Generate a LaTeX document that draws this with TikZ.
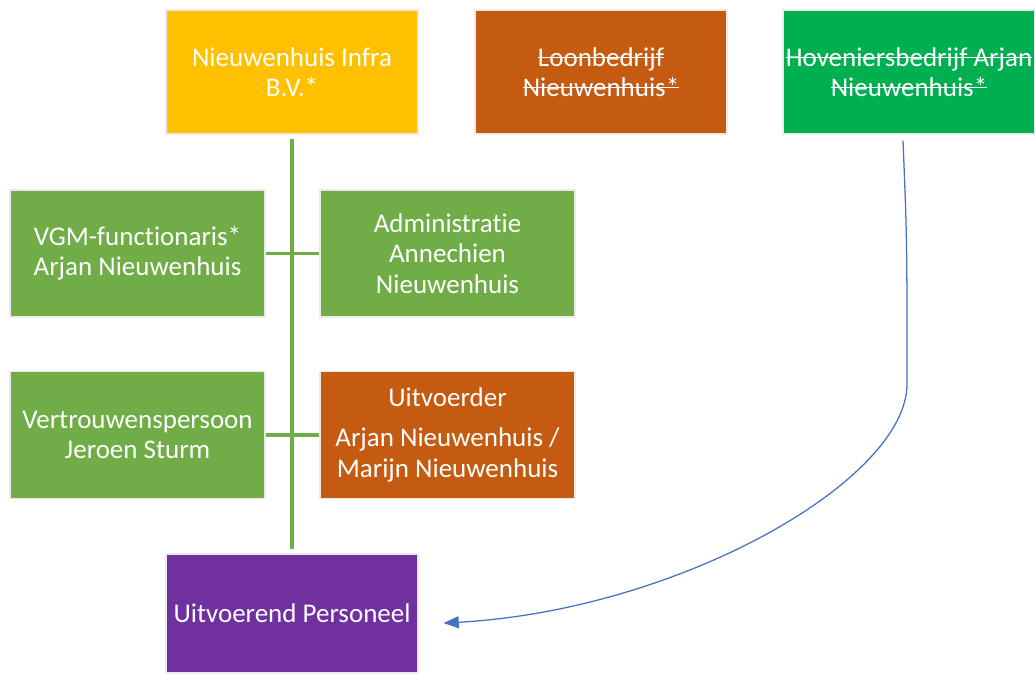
\documentclass[tikz,border=0pt]{standalone}
\usepackage{fontspec}
\setmainfont{Carlito}[Ligatures=NoCommon]
\usepackage{tikz}
\usetikzlibrary{arrows.meta}
\definecolor{infrageel}{HTML}{FFC000}
\definecolor{oranje}{HTML}{C55A11}
\definecolor{felgroen}{HTML}{00B050}
\definecolor{lichtgroen}{HTML}{70AD47}
\definecolor{paars}{HTML}{7030A0}
\definecolor{lijnblauw}{HTML}{4472C4}
\newsavebox\doorhaalbox
\newcommand{\doorhaal}[1]{\sbox\doorhaalbox{#1}\rlap{\rule[0.3em]{\wd\doorhaalbox}{0.055em}}\usebox\doorhaalbox}
\tikzstyle{orgbox}   = [rectangle, minimum width=6.3cm, minimum height=3.1cm, inner sep=1pt, align=center, text=white, draw=black!8, line width=0.8pt, font=\fontsize{19.2}{21.5}\selectfont]
\tikzstyle{subbox}   = [orgbox, minimum width=6.375cm, minimum height=3.175cm]
\tikzstyle{orgline}  = [lichtgroen, line width=2.2pt]
\tikzstyle{arrow}    = [lijnblauw, line width=0.9pt, -{Triangle[length=0.38cm,width=0.3cm]}]

\begin{document}
\begin{tikzpicture}
		\useasboundingbox (0,0) rectangle (25.875,-16.825);

		% bedrijven
		\node[orgbox, fill=infrageel] (infra) at (7.3,-1.8) {Nieuwenhuis Infra\\B.V.*};
		\node[orgbox, fill=oranje] (loon) at (15.025,-1.8) {\doorhaal{Loonbedrijf}\\\doorhaal{Nieuwenhuis*}};
		\node[orgbox, fill=felgroen] (hov) at (22.725,-1.8) {\doorhaal{Hoveniersbedrijf Arjan}\\\doorhaal{Nieuwenhuis*}};

		% functies
		\node[subbox, fill=lichtgroen] (vgm) at (3.4375,-6.3375) {VGM-functionaris*\\Arjan Nieuwenhuis};
		\node[subbox, fill=lichtgroen] (admin) at (11.1875,-6.3375) {Administratie\\Annechien\\Nieuwenhuis};
		\node[subbox, fill=lichtgroen] (vert) at (3.4375,-10.875) {Vertrouwenspersoon\\Jeroen Sturm};
		\node[subbox, fill=oranje] (uitv) at (11.1875,-10.875) {Uitvoerder\\[7pt]Arjan Nieuwenhuis /\\Marijn Nieuwenhuis};

		\node[orgbox, fill=paars, minimum height=2.975cm] (pers) at (7.3,-15.3375) {Uitvoerend Personeel};

		% lijnen
		\draw[orgline] ([yshift=-0.1cm]infra.south) -- ([yshift=0.1cm]pers.north);
		\draw[orgline] (vgm.east) -- (admin.west);
		\draw[orgline] (vert.east) -- (uitv.west);

		\draw[arrow] ([xshift=-0.15cm,yshift=-0.15cm]hov.south) .. controls (22.675,-6) .. (22.675,-9.6)
			.. controls (22.675,-12) and (17,-15.25) .. ([xshift=0.625cm,yshift=-0.24cm]pers.east);
	\end{tikzpicture}
\end{document}
